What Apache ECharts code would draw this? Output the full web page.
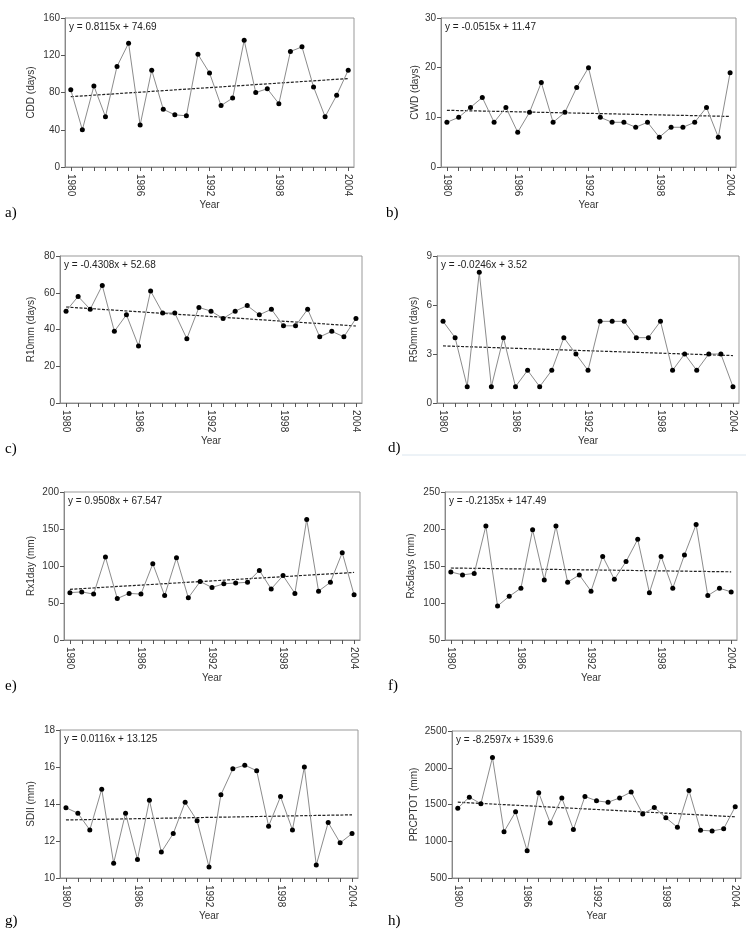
<!DOCTYPE html>
<html>
<head>
<meta charset="utf-8">
<script src="https://cdn.jsdelivr.net/npm/echarts@6/dist/echarts.min.js"></script>
<style>
html, body { margin: 0; background: #fff; }
#chart { width: 746px; height: 933px; }
</style>
</head>
<body>
<div id="chart"></div>
<script>
// years on the x axis
const years = [];
for (let y = 1980; y <= 2004; y++) years.push(y);
const yearLabels = [1980, 1986, 1992, 1998, 2004];

// index values, 1980..2004
const cdd = [83, 40, 87, 54, 108, 133, 45, 104, 62, 56, 55, 121, 101, 66, 74, 136, 80, 84, 68, 124, 129, 86, 54, 77, 104];
const cwd = [9, 10, 12, 14, 9, 12, 7, 11, 17, 9, 11, 16, 20, 10, 9, 9, 8, 9, 6, 8, 8, 9, 12, 6, 19];
const r10mm = [50, 58, 51, 64, 39, 48, 31, 61, 49, 49, 35, 52, 50, 46, 50, 53, 48, 51, 42, 42, 51, 36, 39, 36, 46];
const r50mm = [5, 4, 1, 8, 1, 4, 1, 2, 1, 2, 4, 3, 2, 5, 5, 5, 4, 4, 5, 2, 3, 2, 3, 3, 1];
const rx1day = [64, 65, 62, 112, 56, 63, 62, 103, 60, 111, 57, 79, 71, 76, 77, 78, 94, 69, 87, 63, 163, 66, 78, 118, 61];
const rx5days = [142, 138, 140, 204, 96, 109, 120, 199, 131, 204, 128, 138, 116, 163, 132, 156, 186, 114, 163, 120, 165, 206, 110, 120, 115];
const sdii = [13.8, 13.5, 12.6, 14.8, 10.8, 13.5, 11.0, 14.2, 11.4, 12.4, 14.1, 13.1, 10.6, 14.5, 15.9, 16.1, 15.8, 12.8, 14.4, 12.6, 16.0, 10.7, 13.0, 11.9, 12.4];
const prcptot = [1450, 1600, 1510, 2140, 1130, 1400, 870, 1660, 1250, 1590, 1160, 1610, 1550, 1530, 1590, 1670, 1370, 1460, 1320, 1190, 1690, 1150, 1140, 1170, 1470];

// regression equations printed on each panel (x = 1 for 1980)
const slopes = [0.8115, -0.0515, -0.4308, -0.0246, 0.9508, -0.2135, 0.0116, -8.2597];
const intercepts = [74.69, 11.47, 52.68, 3.52, 67.547, 147.49, 13.125, 1539.6];
const equations = ['y = 0.8115x + 74.69', 'y = -0.0515x + 11.47', 'y = -0.4308x + 52.68', 'y = -0.0246x + 3.52',
  'y = 0.9508x + 67.547', 'y = -0.2135x + 147.49', 'y = 0.0116x + 13.125', 'y = -8.2597x + 1539.6'];
const axisNames = ['CDD (days)', 'CWD (days)', 'R10mm (days)', 'R50mm (days)', 'Rx1day (mm)', 'Rx5days (mm)', 'SDII (mm)', 'PRCPTOT (mm)'];
const letters = ['a)', 'b)', 'c)', 'd)', 'e)', 'f)', 'g)', 'h)'];
const yMin = [0, 0, 0, 0, 0, 50, 10, 500];
const yMax = [160, 30, 80, 9, 200, 250, 18, 2500];
const yStep = [40, 10, 20, 3, 50, 50, 2, 500];
const seriesValues = [cdd, cwd, r10mm, r50mm, rx1day, rx5days, sdii, prcptot];

// panel placement: left, top, width, height, y-name gap
const boxes = [
  [65, 18, 289, 149, 29], [441, 18, 295, 149, 21],
  [60, 256, 302, 147, 24], [437, 256, 302, 147, 18],
  [64, 492, 296, 148, 28], [445, 492, 292, 148, 29],
  [60, 730, 298, 148, 24], [452, 731, 289, 147, 33]
];
const letterPos = [[5, 215], [386, 215], [5, 451], [388, 450], [5, 688], [388, 688], [5, 923], [388, 923]];

const font = 'Liberation Sans, Arial, sans-serif';
const textColor = '#333';

const grid = [], xAxis = [], yAxis = [], series = [], graphic = [];

seriesValues.forEach((vals, i) => {
    const [left, top, width, height, gap] = boxes[i];
    grid.push({left, top, width, height, show: true, borderColor: '#999', borderWidth: 1, backgroundColor: 'transparent'});
    xAxis.push({
        type: 'value',
        gridIndex: i,
        min: 1979.5,
        max: 2004.5,
        name: 'Year',
        nameLocation: 'middle',
        nameGap: 31,
        nameTextStyle: {color: textColor, fontFamily: font, fontSize: 10},
        splitLine: {show: false},
        axisLine: {show: true, lineStyle: {color: '#888'}},
        axisTick: {show: true, length: 4, lineStyle: {color: '#555'}, customValues: years},
        axisLabel: {
            rotate: -90, margin: 7, color: textColor, fontFamily: font, fontSize: 10,
            customValues: yearLabels, formatter: (v) => String(v),
        },
    });
    yAxis.push({
        type: 'value',
        gridIndex: i,
        min: yMin[i],
        max: yMax[i],
        interval: yStep[i],
        name: axisNames[i],
        nameLocation: 'middle',
        nameGap: gap,
        nameTextStyle: {color: textColor, fontFamily: font, fontSize: 10},
        splitLine: {show: false},
        axisLine: {show: true, lineStyle: {color: '#888'}},
        axisTick: {show: true, length: 4, lineStyle: {color: '#555'}},
        axisLabel: {margin: 5, color: textColor, fontFamily: font, fontSize: 10, formatter: (v) => String(v)},
    });
    series.push({
        type: 'line',
        xAxisIndex: i,
        yAxisIndex: i,
        data: years.map((y, k) => [y, vals[k]]),
        symbol: 'circle',
        symbolSize: 5,
        showSymbol: true,
        lineStyle: {color: '#8c8c8c', width: 1},
        itemStyle: {color: '#000'},
        z: 3,
    });
    // linear trend from the printed equation
    const n = vals.length;
    series.push({
        type: 'line',
        xAxisIndex: i,
        yAxisIndex: i,
        data: [[years[0], intercepts[i] + slopes[i]], [years[n - 1], intercepts[i] + slopes[i] * n]],
        symbol: 'none',
        lineStyle: {color: '#222', width: 1.2, type: [3, 1.5]},
        z: 2,
    });
    graphic.push({
        type: 'text',
        left: left + 4,
        top: top + 4,
        style: {text: equations[i], fill: '#222', font: '10px ' + font},
    });
    graphic.push({
        type: 'text',
        left: letterPos[i][0],
        top: letterPos[i][1] - 9,
        style: {text: letters[i], fill: '#000', font: '15px Liberation Serif, Times New Roman, serif'},
    });
});

// faint scan line under panel d
graphic.push({type: 'line', shape: {x1: 402, y1: 455, x2: 746, y2: 455}, style: {stroke: '#dbe6ef', lineWidth: 1}});

const chart = echarts.init(document.getElementById('chart'));
chart.setOption({
    animation: false,
    backgroundColor: '#fff',
    grid,
    xAxis,
    yAxis,
    series,
    graphic,
});
</script>
</body>
</html>
